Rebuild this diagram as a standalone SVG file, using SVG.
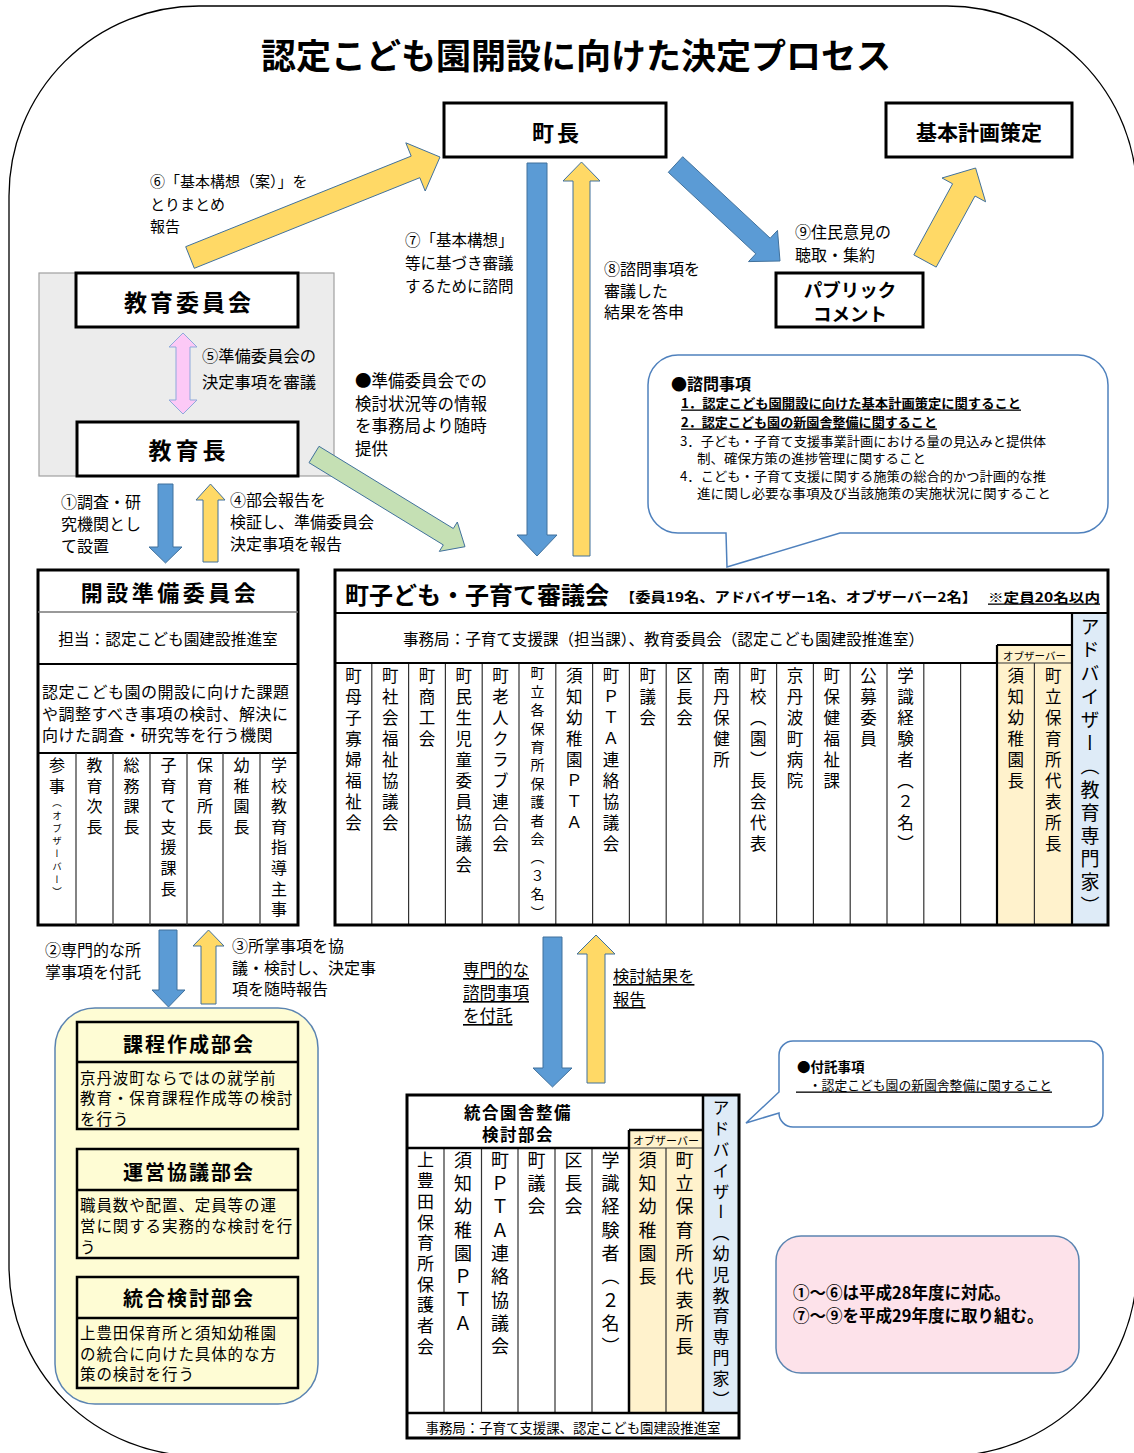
<svg xmlns="http://www.w3.org/2000/svg" width="1134" height="1453" viewBox="0 0 1134 1453">
<style>
text{font-family:"Noto Sans CJK JP","Noto Sans CJK SC",sans-serif;fill:#000;dominant-baseline:central}
.b{font-weight:bold}
.v{writing-mode:vertical-rl}
.box{fill:#fff;stroke:#000;stroke-width:3}
.blue{fill:#5b9bd5;stroke:#41719c;stroke-width:1}
.yel{fill:#ffd966;stroke:#41719c;stroke-width:1}
.thin{stroke:#333;stroke-width:1.2;fill:none}
.u{text-decoration:underline}
.lab{font-size:16px}
.desc{font-size:15.5px;letter-spacing:0.9px}
.c16{font-size:16.5px;letter-spacing:4.5px}
.c18{font-size:18px;letter-spacing:5.3px}
.callout{fill:#fff;stroke:#4f81bd;stroke-width:1.5}
</style>
<rect x="0" y="0" width="1134" height="1453" fill="#fff"/>
<path d="M199 6H947A190 190 0 0 1 1137 196V1266A190 190 0 0 1 947 1456H199A190 190 0 0 1 9 1266V196A190 190 0 0 1 199 6Z" fill="none" stroke="#000" stroke-width="1.3"/>
<text x="576" y="53" text-anchor="middle" class="b" font-size="35">認定こども園開設に向けた決定プロセス</text>

<g id="chou">
<rect class="box" x="444" y="103" width="222" height="54"/>
<text x="557" y="131" text-anchor="middle" class="b" font-size="22" letter-spacing="3">町長</text>
</g>
<g id="kihon-keikaku">
<rect class="box" x="886" y="103" width="186" height="54"/>
<text x="979" y="131" text-anchor="middle" class="b" font-size="21">基本計画策定</text>
</g>
<g id="public-comment">
<rect class="box" x="776" y="273" width="147" height="54"/>
<text x="850" y="289" text-anchor="middle" class="b" font-size="18.5">パブリック</text>
<text x="850" y="313" text-anchor="middle" class="b" font-size="18.5">コメント</text>
</g>
<g id="kyoiku-panel">
<rect x="39" y="273" width="295" height="203" fill="#ececec" stroke="#a0a0a0" stroke-width="1.2"/>
</g>
<g id="kyoiku-iinkai">
<rect class="box" x="76" y="273" width="222" height="54"/>
<text x="189" y="301" text-anchor="middle" class="b" font-size="23" letter-spacing="3">教育委員会</text>
</g>
<g id="kyoikucho">
<rect class="box" x="77" y="422" width="221" height="54"/>
<text x="189" y="449" text-anchor="middle" class="b" font-size="23" letter-spacing="4">教育長</text>
</g>

<g id="shimon-callout">
<path class="callout" d="M678 355H1078A30 30 0 0 1 1108 385V503A30 30 0 0 1 1078 533H840L727 567L726 533H678A30 30 0 0 1 648 503V385A30 30 0 0 1 678 355Z"/>
<text x="671" y="383" class="b" font-size="16">●諮問事項</text>
<text x="681" y="402" class="b u" font-size="13" textLength="340" lengthAdjust="spacingAndGlyphs">1．認定こども園開設に向けた基本計画策定に関すること</text>
<text x="681" y="421" class="b u" font-size="13" textLength="256" lengthAdjust="spacingAndGlyphs">2．認定こども園の新園舎整備に関すること</text>
<text x="680" y="440" font-size="13" textLength="366" lengthAdjust="spacingAndGlyphs">3．子ども・子育て支援事業計画における量の見込みと提供体</text>
<text x="697" y="457.5" font-size="13" textLength="229" lengthAdjust="spacingAndGlyphs">制、確保方策の進捗管理に関すること</text>
<text x="680" y="475" font-size="13" textLength="366" lengthAdjust="spacingAndGlyphs">4．こども・子育て支援に関する施策の総合的かつ計画的な推</text>
<text x="697" y="492.5" font-size="13" textLength="354" lengthAdjust="spacingAndGlyphs">進に関し必要な事項及び当該施策の実施状況に関すること</text>
</g>

<g id="kaisetsu-junbi">
<rect x="38" y="570" width="260" height="355" fill="#fff" stroke="#000" stroke-width="3"/>
<path d="M38 612H298" stroke="#777" stroke-width="1.5"/>
<path d="M38 664H298M38 753H298" stroke="#000" stroke-width="2"/>
<path class="thin" d="M76 753V925M113 753V925M150 753V925M187 753V925M223 753V925M260 753V925"/>
<text x="170" y="591" text-anchor="middle" class="b" font-size="22" letter-spacing="3.5">開設準備委員会</text>
<text x="168" y="638" text-anchor="middle" font-size="15.7">担当：認定こども園建設推進室</text>
<text x="42" y="691" font-size="16" letter-spacing="0.5">認定こども園の開設に向けた課題</text>
<text x="42" y="712.5" font-size="16" letter-spacing="0.5">や調整すべき事項の検討、解決に</text>
<text x="42" y="734" font-size="16" letter-spacing="0.5">向けた調査・研究等を行う機関</text>
<text class="v" x="57" y="757" font-size="16" letter-spacing="4.6">参事<tspan font-size="9.5" letter-spacing="3.2">（オブザーバー）</tspan></text>
<text class="v" x="94.5" y="757" font-size="16" letter-spacing="4.6">教育次長</text>
<text class="v" x="131.5" y="757" font-size="16" letter-spacing="4.6">総務課長</text>
<text class="v" x="168.5" y="757" font-size="16" letter-spacing="4.6">子育て支援課長</text>
<text class="v" x="205" y="757" font-size="16" letter-spacing="4.6">保育所長</text>
<text class="v" x="241.5" y="757" font-size="16" letter-spacing="4.6">幼稚園長</text>
<text class="v" x="279" y="757" font-size="16" letter-spacing="4.6">学校教育指導主事</text>
</g>

<g id="shingikai">
<rect x="335" y="570" width="773" height="355" fill="#fff" stroke="none"/>
<rect x="997" y="645" width="75" height="280" fill="#fff2cc"/>
<rect x="1072" y="613" width="36" height="312" fill="#deebf7"/>
<path class="thin" d="M371.8 663V925M408.6 663V925M445.4 663V925M482.2 663V925M519 663V925M555.8 663V925M592.6 663V925M629.4 663V925M666.2 663V925M703 663V925M739.8 663V925M776.6 663V925M813.4 663V925M850.2 663V925M887 663V925M923.8 663V925M960.6 663V925M1034.4 663V925M997 663H1072"/>
<path d="M335 613H1108M335 663H997M997 645H1072M997 645V925M1072 613V925" stroke="#000" stroke-width="2.2" fill="none"/>
<rect x="335" y="570" width="773" height="355" fill="none" stroke="#000" stroke-width="3"/>
<text x="345" y="593" class="b" font-size="24">町子ども・子育て審議会</text>
<text x="620" y="596" class="b" font-size="13.5" textLength="357" lengthAdjust="spacingAndGlyphs">【委員19名、アドバイザー1名、オブザーバー2名】</text>
<text x="988" y="596" class="b u" font-size="13" textLength="112" lengthAdjust="spacingAndGlyphs">※定員20名以内</text>
<text x="403" y="638" font-size="15.8" textLength="521" lengthAdjust="spacingAndGlyphs">事務局：子育て支援課（担当課）、教育委員会（認定こども園建設推進室）</text>
<text x="1034.5" y="655" text-anchor="middle" font-size="10.5">オブザーバー</text>
<text class="v c16" x="353.4" y="667">町母子寡婦福祉会</text>
<text class="v c16" x="390.2" y="667">町社会福祉協議会</text>
<text class="v c16" x="427" y="667">町商工会</text>
<text class="v c16" x="463.8" y="667">町民生児童委員協議会</text>
<text class="v c16" x="500.6" y="667">町老人クラブ連合会</text>
<text class="v" x="537.4" y="666" font-size="14" letter-spacing="4.4">町立各保育所保護者会（３名）</text>
<text class="v c16" x="574.2" y="667">須知幼稚園ＰＴＡ</text>
<text class="v c16" x="611" y="667">町ＰＴＡ連絡協議会</text>
<text class="v c16" x="647.8" y="667">町議会</text>
<text class="v c16" x="684.6" y="667">区長会</text>
<text class="v c16" x="721.4" y="667">南丹保健所</text>
<text class="v c16" x="758.2" y="667">町校（園）長会代表</text>
<text class="v c16" x="795" y="667">京丹波町病院</text>
<text class="v c16" x="831.8" y="667">町保健福祉課</text>
<text class="v c16" x="868.6" y="667">公募委員</text>
<text class="v c16" x="905.4" y="667">学識経験者（２名）</text>
<text class="v c16" x="1015.7" y="667">須知幼稚園長</text>
<text class="v c16" x="1053.2" y="667">町立保育所代表所長</text>
<text class="v" x="1090" y="617.5" font-size="19" letter-spacing="4.2">アドバイザー（教育専門家）</text>
</g>

<g id="bukai-container">
<rect x="55" y="1008" width="263" height="396" rx="40" fill="#fefcd4" stroke="#5b84b1" stroke-width="1.5"/>
</g>
<g id="katei-bukai">
<rect x="77" y="1022" width="221" height="107" fill="#fefcd4" stroke="#000" stroke-width="2.5"/>
<path d="M77 1062H298" stroke="#000" stroke-width="2.5"/>
<text x="189" y="1043" text-anchor="middle" class="b" font-size="20" letter-spacing="2">課程作成部会</text>
<text x="80" y="1076.5" class="desc">京丹波町ならではの就学前</text>
<text x="80" y="1097" class="desc">教育・保育課程作成等の検討</text>
<text x="80" y="1117.5" class="desc">を行う</text>
</g>
<g id="unei-bukai">
<rect x="77" y="1149" width="221" height="109" fill="#fefcd4" stroke="#000" stroke-width="2.5"/>
<path d="M77 1190H298" stroke="#000" stroke-width="2.5"/>
<text x="189" y="1171" text-anchor="middle" class="b" font-size="20" letter-spacing="2">運営協議部会</text>
<text x="80" y="1204" class="desc">職員数や配置、定員等の運</text>
<text x="80" y="1225" class="desc">営に関する実務的な検討を行</text>
<text x="80" y="1246" class="desc">う</text>
</g>
<g id="togo-bukai">
<rect x="77" y="1277" width="221" height="111" fill="#fefcd4" stroke="#000" stroke-width="2.5"/>
<path d="M77 1318H298" stroke="#000" stroke-width="2.5"/>
<text x="189" y="1297" text-anchor="middle" class="b" font-size="20" letter-spacing="2">統合検討部会</text>
<text x="80" y="1332" class="desc">上豊田保育所と須知幼稚園</text>
<text x="80" y="1352.5" class="desc">の統合に向けた具体的な方</text>
<text x="80" y="1373" class="desc">策の検討を行う</text>
</g>

<g id="togo-ensha">
<rect x="407" y="1095" width="332" height="343" fill="#fff"/>
<rect x="629" y="1130" width="74" height="283" fill="#fff2cc"/>
<rect x="703" y="1095" width="36" height="318" fill="#deebf7"/>
<path class="thin" d="M444 1148V1413M481.5 1148V1413M518 1148V1413M555 1148V1413M592 1148V1413M666 1148V1413M629 1148H703"/>
<path d="M407 1148H629M629 1130H703M629 1130V1413M703 1095V1413M407 1413H739" stroke="#000" stroke-width="2.5" fill="none"/>
<rect x="407" y="1095" width="332" height="343" fill="none" stroke="#000" stroke-width="3"/>
<text x="518" y="1112" text-anchor="middle" class="b" font-size="16.5" letter-spacing="1.5">統合園舎整備</text>
<text x="518" y="1134" text-anchor="middle" class="b" font-size="16.5" letter-spacing="1.5">検討部会</text>
<text x="666" y="1140" text-anchor="middle" font-size="11">オブザーバー</text>
<text class="v" x="425.5" y="1151.5" font-size="17" letter-spacing="3.7">上豊田保育所保護者会</text>
<text class="v c18" x="463" y="1151">須知幼稚園ＰＴＡ</text>
<text class="v c18" x="500" y="1151">町ＰＴＡ連絡協議会</text>
<text class="v c18" x="536.5" y="1151">町議会</text>
<text class="v c18" x="573.5" y="1151">区長会</text>
<text class="v c18" x="610.5" y="1151">学識経験者（２名）</text>
<text class="v c18" x="647.5" y="1151">須知幼稚園長</text>
<text class="v c18" x="684.5" y="1151">町立保育所代表所長</text>
<text class="v" x="721" y="1099.5" font-size="17" letter-spacing="3.8">アドバイザー（幼児教育専門家）</text>
<text x="573" y="1427" text-anchor="middle" font-size="13.5" textLength="295" lengthAdjust="spacingAndGlyphs">事務局：子育て支援課、認定こども園建設推進室</text>
</g>

<g id="futaku-callout">
<path class="callout" d="M793 1041H1089A14 14 0 0 1 1103 1055V1113A14 14 0 0 1 1089 1127H793A14 14 0 0 1 779 1113L746 1123L779 1092V1055A14 14 0 0 1 793 1041Z"/>
<text x="797" y="1066" class="b" font-size="13.5">●付託事項</text>
<text x="796" y="1084" class="u" font-size="13" textLength="256" lengthAdjust="spacingAndGlyphs">　・認定こども園の新園舎整備に関すること</text>
</g>

<g id="note">
<rect x="776" y="1236" width="303" height="137" rx="25" fill="#fde2ea" stroke="#5b84b1" stroke-width="1.5"/>
<text x="793" y="1292" class="b" font-size="16.5">①～⑥は平成28年度に対応。</text>
<text x="793" y="1315" class="b" font-size="16.5">⑦～⑨を平成29年度に取り組む。</text>
</g>

<g id="connectors">
<polygon class="yel" points="185.7,246.7 411.2,156.1 405.8,142.8 440,157 425.2,191 419.8,177.7 194.3,268.3"/>
<polygon class="blue" points="527,163 547,163 547,535 557,535 537,556 517,535 527,535"/>
<polygon class="yel" points="573,556 590,556 590,181 600,181 581.5,162 563,181 573,181"/>
<polygon class="blue" points="682.7,156.7 770.2,238.2 777.5,230.4 780,261 748.5,261.6 755.8,253.8 668.3,172.3"/>
<polygon class="yel" points="913.8,254.9 952.6,183.8 942,178 975.6,168 985.6,201.8 975,196 936.2,267.1"/>
<polygon points="183,333 197,347 190,347 190,400 197,400 183,414 169,400 176,400 176,347 169,347" fill="#fcc9f6" stroke="#8ea9db" stroke-width="1"/>
<polygon points="319,446.3 453.3,528.5 457.3,522 465,546.7 439.3,551.4 443.3,544.9 309,462.7" fill="#c5e0b4" stroke="#41719c" stroke-width="1"/>
<polygon class="blue" points="158,484 173,484 173,547 182,547 165.5,563 149,547 158,547"/>
<polygon class="yel" points="203,562 218,562 218,500 225,500 210.5,484 196,500 203,500"/>
<polygon class="blue" points="159,930 177,930 177,990 185,990 168.5,1007 152,990 159,990"/>
<polygon class="yel" points="201,1004 216,1004 216,946 224,946 208.5,930 193,946 201,946"/>
<polygon class="blue" points="543,937 562,937 562,1068 572,1068 552.5,1087 533,1068 543,1068"/>
<polygon class="yel" points="587,1083 605,1083 605,954 615,954 596,935 577,954 587,954"/>
</g>

<g id="labels">
<text x="150" y="180" font-size="15">⑥「基本構想（案）」を</text>
<text x="150" y="203" font-size="15">とりまとめ</text>
<text x="150" y="225" font-size="15">報告</text>
<text x="405" y="239" font-size="15.5">⑦「基本構想」</text>
<text x="405" y="262" font-size="15.5">等に基づき審議</text>
<text x="405" y="285" font-size="15.5">するために諮問</text>
<text x="604" y="268" class="lab">⑧諮問事項を</text>
<text x="604" y="289.5" class="lab">審議した</text>
<text x="604" y="311" class="lab">結果を答申</text>
<text x="795" y="231" class="lab">⑨住民意見の</text>
<text x="795" y="254" class="lab">聴取・集約</text>
<text x="202" y="355" font-size="16.3">⑤準備委員会の</text>
<text x="202" y="381" font-size="16.3">決定事項を審議</text>
<text x="355" y="380" font-size="16.5">●準備委員会での</text>
<text x="355" y="402.5" font-size="16.5">検討状況等の情報</text>
<text x="355" y="425" font-size="16.5">を事務局より随時</text>
<text x="355" y="447.5" font-size="16.5">提供</text>
<text x="61" y="501" class="lab">①調査・研</text>
<text x="61" y="523" class="lab">究機関とし</text>
<text x="61" y="545" class="lab">て設置</text>
<text x="230" y="499" class="lab">④部会報告を</text>
<text x="230" y="521" class="lab">検証し、準備委員会</text>
<text x="230" y="543" class="lab">決定事項を報告</text>
<text x="45" y="949" class="lab">②専門的な所</text>
<text x="45" y="971" class="lab">掌事項を付託</text>
<text x="232" y="945" class="lab">③所掌事項を協</text>
<text x="232" y="966.5" class="lab">議・検討し、決定事</text>
<text x="232" y="988" class="lab">項を随時報告</text>
<text x="463" y="969" class="u" font-size="16.5">専門的な</text>
<text x="463" y="992" class="u" font-size="16.5">諮問事項</text>
<text x="463" y="1015" class="u" font-size="16.5">を付託</text>
<text x="613" y="975" class="u" font-size="16.3">検討結果を</text>
<text x="613" y="998" class="u" font-size="16.3">報告</text>
</g>
</svg>
